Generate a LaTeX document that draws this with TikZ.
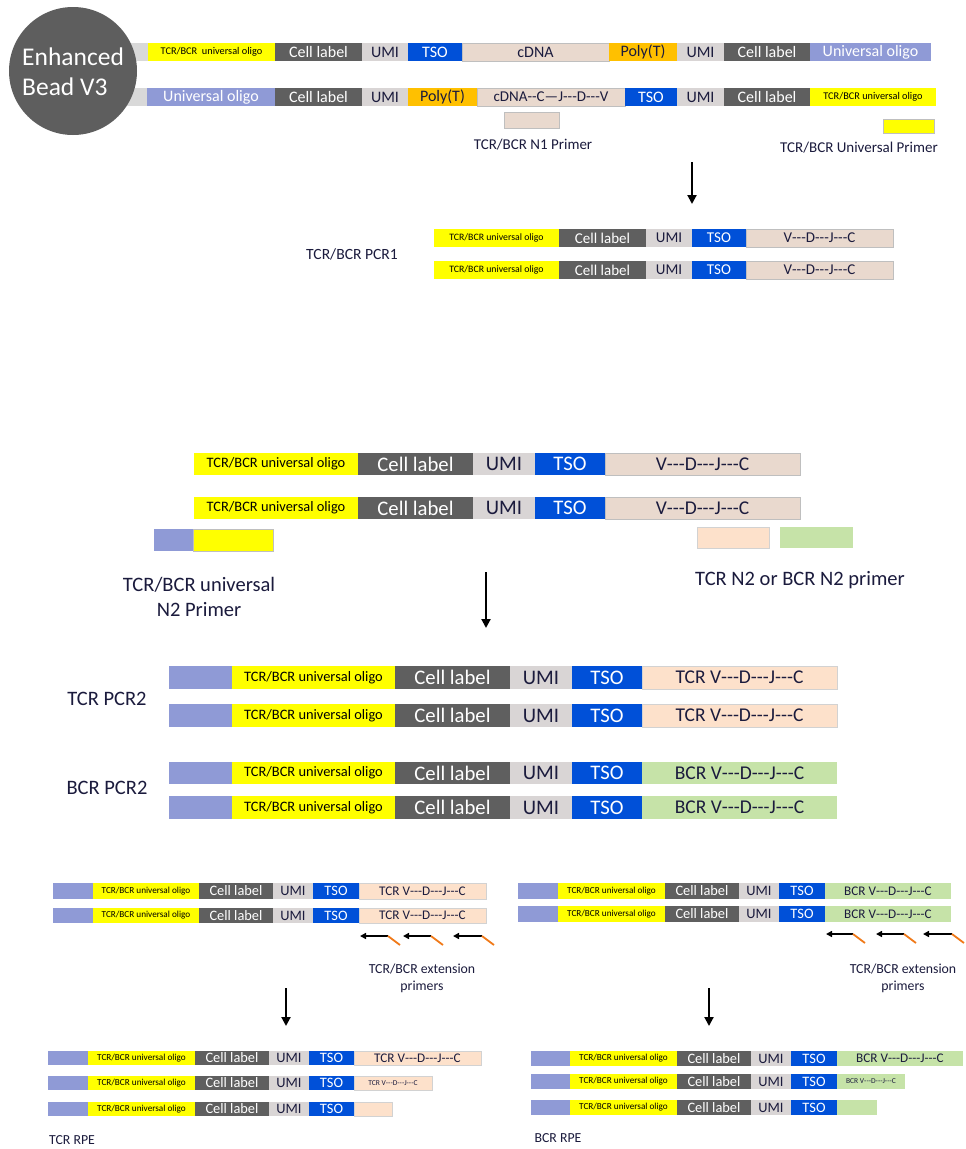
\documentclass[tikz,border=0pt]{standalone}
\usepackage{fontspec}
\setmainfont{Carlito}
\usetikzlibrary{arrows.meta}
\definecolor{cyel}{HTML}{FFFF00}
\definecolor{ccell}{HTML}{5F5F5F}
\definecolor{cumi}{HTML}{D9D5D5}
\definecolor{ctso}{HTML}{0050D8}
\definecolor{ccdna}{HTML}{E9D9CE}
\definecolor{cpolyt}{HTML}{FFC000}
\definecolor{cuniv}{HTML}{8F9AD6}
\definecolor{clead}{HTML}{D9D9D9}
\definecolor{cpeach}{HTML}{FDE1CB}
\definecolor{cgreen}{HTML}{C6E3A8}
\definecolor{cnavy}{HTML}{1B1B3D}
\definecolor{ccirc}{HTML}{5E5E5E}
\definecolor{corange}{HTML}{F07A1A}
\definecolor{cborder}{HTML}{BFBFBF}
\newcommand\hy{\mbox{-}}
\newcommand\vdjc{V\hy\hy\hy D\hy\hy\hy J\hy\hy\hy C}
\tikzset{
  fs/.style={font=\fontsize{#1}{#1}\selectfont},
  segbox/.style={inner sep=0pt, outer sep=0pt, anchor=north west},
  yel/.style={fill=cyel, text=black},
  cell/.style={fill=ccell, text=white},
  umi/.style={fill=cumi, text=cnavy},
  tso/.style={fill=ctso, text=white},
  cdna/.style={fill=ccdna, text=cnavy, draw=cborder, line width=0.6pt},
  polyt/.style={fill=cpolyt, text=cnavy},
  univ/.style={fill=cuniv, text=white},
  lead/.style={fill=clead},
  peach/.style={fill=cpeach, text=cnavy, draw=cborder!70, line width=0.5pt},
  grn/.style={fill=cgreen, text=cnavy},
  lbl/.style={text=cnavy, inner sep=0pt, align=center},
  bigarrow/.style={-{Triangle[width=9pt,length=9pt]}, line width=2pt, black},
  extarrow/.style={-{Triangle[width=6pt,length=6pt]}, line width=1.8pt, black},
  exttail/.style={line width=1.8pt, corange},
}
% \seg{name}{style}{x1}{x2}{y1}{y2}{text}
\newcommand\seg[7]{\node[segbox,#2,minimum width={#4-#3},minimum height={#6-#5}] (#1) at (#3,#5) {#7};}
\begin{document}
\begin{tikzpicture}[x=1pt,y=-1pt]
\useasboundingbox (0,0) rectangle (966,1149);
\fill[white] (0,0) rectangle (966,1149);

% ---------------- top: bead ----------------
\seg{ra0}{lead}{100}{148}{43}{61}{}
\seg{rb0}{lead}{100}{147}{88}{106}{}
\node[circle, fill=ccirc, minimum size=128pt, inner sep=0pt] (bead) at (73,71) {};
\node[text=white, align=left, anchor=west, inner sep=0pt, font=\fontsize{25.5}{30}\selectfont] (beadtxt) at (22,72) {Enhanced\\Bead V3};

\seg{ra1}{yel,fs=10.3}{148}{275}{43}{61}{TCR/BCR\ \ universal oligo}
\seg{ra2}{cell,fs=16}{275}{362}{43}{61}{Cell label}
\seg{ra3}{umi,fs=16}{362}{408}{43}{61}{UMI}
\seg{ra4}{tso,fs=16}{408}{462}{43}{61}{TSO}
\seg{ra5}{cdna,fs=16}{462}{609}{43}{61}{cDNA}
\seg{ra6}{polyt,fs=16}{609}{677}{43}{61}{Poly(T)}
\seg{ra7}{umi,fs=16}{677}{724}{43}{61}{UMI}
\seg{ra8}{cell,fs=16}{724}{810}{43}{61}{Cell label}
\seg{ra9}{univ,fs=16}{810}{931}{43}{61}{Universal oligo}

\seg{rb1}{univ,fs=16}{147}{275}{88}{106}{Universal oligo}
\seg{rb2}{cell,fs=16}{275}{362}{88}{106}{Cell label}
\seg{rb3}{umi,fs=16}{362}{408}{88}{106}{UMI}
\seg{rb4}{polyt,fs=16}{408}{477}{88}{106}{Poly(T)}
\seg{rb5}{cdna,fs=15}{477}{625}{88}{106}{cDNA\hy\hy C—J\hy\hy\hy D\hy\hy\hy V}
\seg{rb6}{tso,fs=16}{625}{677}{88}{106}{TSO}
\seg{rb7}{umi,fs=16}{677}{724}{88}{106}{UMI}
\seg{rb8}{cell,fs=16}{724}{810}{88}{106}{Cell label}
\seg{rb9}{yel,fs=10.3}{810}{936}{88}{106}{TCR/BCR universal oligo}

\seg{pn1}{cdna}{504}{559}{112}{128}{}
\node[lbl, fs=15] (pn1l) at (533,145) {TCR/BCR N1 Primer};
\seg{pu1}{yel,draw=cborder,line width=0.5pt}{883}{934}{119}{133}{}
\node[lbl, fs=15] (pu1l) at (859,148) {TCR/BCR Universal Primer};

\coordinate (a1s) at (692,162);
\coordinate (a1e) at (692,204);
\draw[bigarrow] (a1s) -- (a1e);

% ---------------- PCR1 ----------------
\foreach \r/\ya/\yb in {1/229/247, 2/261/279}{
  \seg{pa\r1}{yel,fs=9.8}{434}{559}{\ya}{\yb}{TCR/BCR universal oligo}
  \seg{pa\r2}{cell,fs=15}{559}{646}{\ya}{\yb}{Cell label}
  \seg{pa\r3}{umi,fs=15}{646}{692}{\ya}{\yb}{UMI}
  \seg{pa\r4}{tso,fs=15}{692}{746}{\ya}{\yb}{TSO}
  \seg{pa\r5}{cdna,fs=15}{746}{893}{\ya}{\yb}{\vdjc}
}
\node[lbl, fs=15.6] (pcr1l) at (352,254) {TCR/BCR PCR1};

% ---------------- middle ----------------
\foreach \r/\ya/\yb in {1/453/475, 2/497/519}{
  \seg{ma\r1}{yel,fs=14.4}{194}{358}{\ya}{\yb}{TCR/BCR universal oligo}
  \seg{ma\r2}{cell,fs=20.7}{358}{473}{\ya}{\yb}{Cell label}
  \seg{ma\r3}{umi,fs=20.7}{473}{535}{\ya}{\yb}{UMI}
  \seg{ma\r4}{tso,fs=20.7}{535}{605}{\ya}{\yb}{TSO}
  \seg{ma\r5}{cdna,fs=19.5}{605}{800}{\ya}{\yb}{\vdjc}
}
\seg{mp1}{univ}{154}{193}{529}{551}{}
\seg{mp2}{yel,draw=cborder,line width=0.4pt}{193}{273}{529}{551}{}
\seg{mp3}{peach}{697}{769}{527}{548}{}
\seg{mp4}{grn}{780}{853}{527}{548}{}
\node[lbl, font=\fontsize{20.5}{25}\selectfont] (mpl1) at (199,597) {TCR/BCR universal\\N2 Primer};
\node[lbl, fs=20.5] (mpl2) at (800,580) {TCR N2 or BCR N2 primer};

\coordinate (a2s) at (486,572);
\coordinate (a2e) at (486,628);
\draw[bigarrow] (a2s) -- (a2e);

% ---------------- PCR2 ----------------
\foreach \r/\ya/\yb/\st/\tx in {1/666/689/peach/TCR, 2/704/727/peach/TCR, 3/762/784/grn/BCR, 4/796/819/grn/BCR}{
  \seg{qa\r0}{univ}{169}{232}{\ya}{\yb}{}
  \seg{qa\r1}{yel,fs=14.4}{232}{395}{\ya}{\yb}{TCR/BCR universal oligo}
  \seg{qa\r2}{cell,fs=20.7}{395}{510}{\ya}{\yb}{Cell label}
  \seg{qa\r3}{umi,fs=20.7}{510}{572}{\ya}{\yb}{UMI}
  \seg{qa\r4}{tso,fs=20.7}{572}{642}{\ya}{\yb}{TSO}
  \seg{qa\r5}{\st,fs=19.5}{642}{837}{\ya}{\yb}{\tx\ \vdjc}
}
\node[lbl, fs=20.5] (tpcr2) at (107,699) {TCR PCR2};
\node[lbl, fs=20.5] (bpcr2) at (107,788) {BCR PCR2};

% ---------------- bottom left: extension ----------------
\foreach \r/\ya/\yb in {1/883/899, 2/908/923}{
  \seg{la\r0}{univ}{53}{93}{\ya}{\yb}{}
  \seg{la\r1}{yel,fs=9.2}{93}{199}{\ya}{\yb}{TCR/BCR universal oligo}
  \seg{la\r2}{cell,fs=14.4}{199}{273}{\ya}{\yb}{Cell label}
  \seg{la\r3}{umi,fs=14.4}{273}{313}{\ya}{\yb}{UMI}
  \seg{la\r4}{tso,fs=14.4}{313}{359}{\ya}{\yb}{TSO}
  \seg{la\r5}{peach,fs=13.2}{359}{486}{\ya}{\yb}{TCR \vdjc}
}
\foreach \i/\xt/\xh in {1/388/360, 2/431/403, 3/482/453}{
  \coordinate (lt\i) at (\xt,936);
  \coordinate (lh\i) at (\xh,936);
  \coordinate (lo\i) at (\xt+12,945);
  \draw[extarrow] (lt\i) -- (lh\i);
  \draw[exttail] (lt\i) -- (lo\i);
}
\node[lbl, font=\fontsize{13.8}{17}\selectfont] (lext) at (422,978) {TCR/BCR extension\\primers};
\coordinate (a3s) at (286,988);
\coordinate (a3e) at (286,1026);
\draw[bigarrow] (a3s) -- (a3e);

% ---------------- bottom right: extension ----------------
\foreach \r/\ya/\yb in {1/883/899, 2/906/922}{
  \seg{ra\r0x}{univ}{518}{558}{\ya}{\yb}{}
  \seg{ra\r1x}{yel,fs=9.2}{558}{665}{\ya}{\yb}{TCR/BCR universal oligo}
  \seg{ra\r2x}{cell,fs=14.4}{665}{739}{\ya}{\yb}{Cell label}
  \seg{ra\r3x}{umi,fs=14.4}{739}{779}{\ya}{\yb}{UMI}
  \seg{ra\r4x}{tso,fs=14.4}{779}{825}{\ya}{\yb}{TSO}
  \seg{ra\r5x}{grn,fs=13.2}{825}{951}{\ya}{\yb}{BCR \vdjc}
}
\foreach \i/\xt/\xh in {1/853/826, 2/904/876, 3/952/923}{
  \coordinate (rt\i) at (\xt,934);
  \coordinate (rh\i) at (\xh,934);
  \coordinate (ro\i) at (\xt+12,943);
  \draw[extarrow] (rt\i) -- (rh\i);
  \draw[exttail] (rt\i) -- (ro\i);
}
\node[lbl, font=\fontsize{13.8}{17}\selectfont] (rext) at (903,978) {TCR/BCR extension\\primers};
\coordinate (a4s) at (709,988);
\coordinate (a4e) at (709,1026);
\draw[bigarrow] (a4s) -- (a4e);

% ---------------- TCR RPE ----------------
\foreach \r/\ya/\yb in {1/1051/1065, 2/1076/1090, 3/1102/1116}{
  \seg{ta\r0}{univ}{48}{88}{\ya}{\yb}{}
  \seg{ta\r1}{yel,fs=9.2}{88}{195}{\ya}{\yb}{TCR/BCR universal oligo}
  \seg{ta\r2}{cell,fs=14.4}{195}{269}{\ya}{\yb}{Cell label}
  \seg{ta\r3}{umi,fs=14.4}{269}{309}{\ya}{\yb}{UMI}
  \seg{ta\r4}{tso,fs=14.4}{309}{354}{\ya}{\yb}{TSO}
}
\seg{ta15}{peach,fs=13.2}{354}{481}{1051}{1065}{TCR \vdjc}
\seg{ta25}{peach,fs=7.5}{354}{432}{1076}{1090}{TCR \vdjc}
\seg{ta35}{peach}{354}{392}{1102}{1116}{}
\node[lbl, fs=13.8] (trpe) at (72,1140) {TCR RPE};

% ---------------- BCR RPE ----------------
\foreach \r/\ya/\yb in {1/1051/1066, 2/1074/1089, 3/1100/1115}{
  \seg{ba\r0}{univ}{531}{570}{\ya}{\yb}{}
  \seg{ba\r1}{yel,fs=9.2}{570}{677}{\ya}{\yb}{TCR/BCR universal oligo}
  \seg{ba\r2}{cell,fs=14.4}{677}{751}{\ya}{\yb}{Cell label}
  \seg{ba\r3}{umi,fs=14.4}{751}{791}{\ya}{\yb}{UMI}
  \seg{ba\r4}{tso,fs=14.4}{791}{837}{\ya}{\yb}{TSO}
}
\seg{ba15}{grn,fs=13.2}{837}{963}{1051}{1066}{BCR \vdjc}
\seg{ba25}{grn,fs=7.5}{837}{905}{1074}{1089}{BCR \vdjc}
\seg{ba35}{grn}{837}{877}{1100}{1115}{}
\node[lbl, fs=13.8] (brpe) at (558,1138) {BCR RPE};
\end{tikzpicture}
\end{document}
